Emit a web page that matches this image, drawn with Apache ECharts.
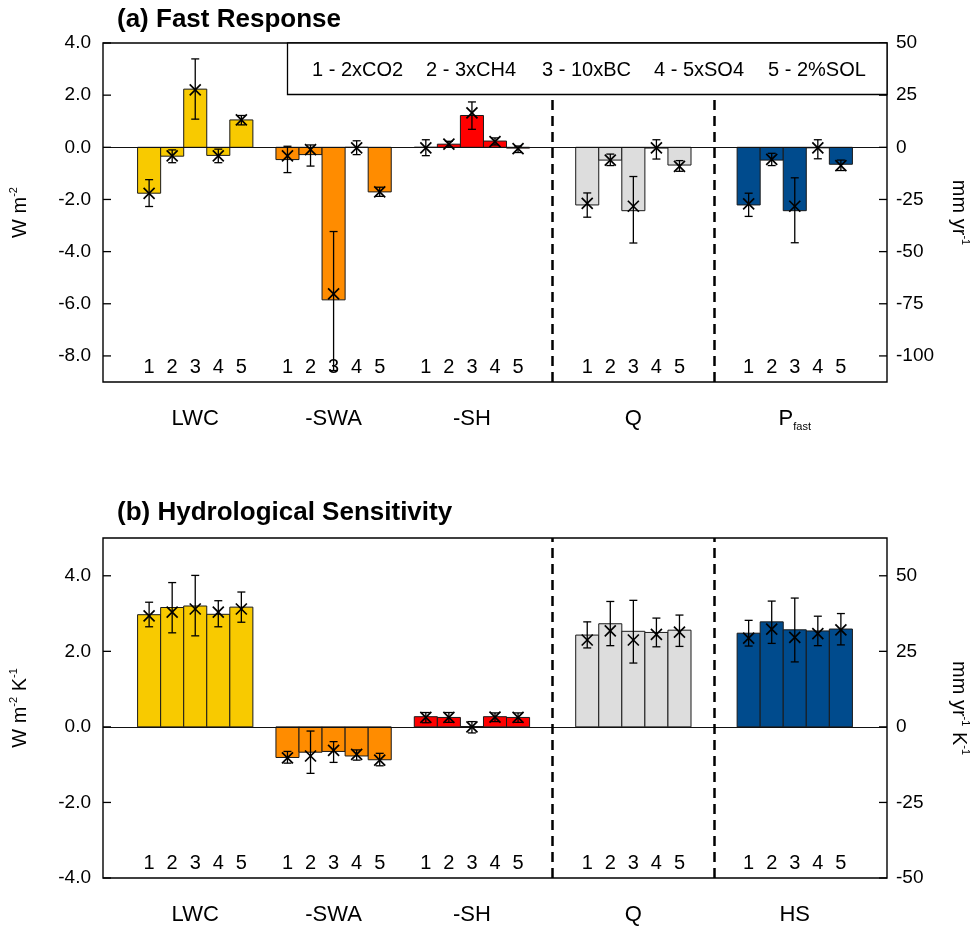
<!DOCTYPE html>
<html>
<head>
<meta charset="utf-8">
<script src="https://cdn.jsdelivr.net/npm/echarts@6/dist/echarts.min.js"></script>
<style>html,body{margin:0;padding:0;background:#fff;}#c{width:973px;height:927px;}</style>
</head>
<body>
<div id="c"></div>
<script>
// ---------- data ----------
const groupNamesA = ['LWC', '-SWA', '-SH', 'Q', 'P_fast'];
const groupNamesB = ['LWC', '-SWA', '-SH', 'Q', 'HS'];
const groupColors = ['#F8CA00', '#FF8C00', '#FF0000', '#DDDDDD', '#004B8D'];
const groupStart = [2, 8, 14, 21, 28];          // x slot of experiment 1 in each group
const experimentNums = ['1', '2', '3', '4', '5'];
const legendItems = ['1 - 2xCO2', '2 - 3xCH4', '3 - 10xBC', '4 - 5xSO4', '5 - 2%SOL'];
const separators = [19.5, 26.5];

// (a) Fast response, W m-2 (bar, marker, error low, error high)
const fastBar = [
  [-1.76, -0.34, 2.23, -0.31, 1.05],
  [-0.47, -0.28, -5.85, 0.0, -1.71],
  [0.0, 0.12, 1.22, 0.24, -0.03],
  [-2.21, -0.49, -2.43, -0.03, -0.68],
  [-2.21, -0.49, -2.43, -0.02, -0.65]
];
const fastMark = [
  [-1.77, -0.33, 2.20, -0.33, 1.05],
  [-0.33, -0.09, -5.62, -0.02, -1.71],
  [-0.02, 0.12, 1.32, 0.22, -0.05],
  [-2.15, -0.49, -2.26, -0.02, -0.73],
  [-2.17, -0.46, -2.26, -0.02, -0.70]
];
const fastLo = [
  [-2.27, -0.59, 1.08, -0.59, 0.86],
  [-0.97, -0.72, -8.56, -0.28, -1.88],
  [-0.32, 0.0, 0.69, 0.09, -0.20],
  [-2.68, -0.70, -3.67, -0.45, -0.92],
  [-2.65, -0.70, -3.66, -0.44, -0.89]
];
const fastHi = [
  [-1.24, -0.10, 3.39, -0.07, 1.22],
  [0.04, 0.09, -3.23, 0.25, -1.53],
  [0.29, 0.23, 1.74, 0.36, 0.05],
  [-1.75, -0.26, -1.12, 0.29, -0.51],
  [-1.76, -0.23, -1.17, 0.29, -0.49]
];

// (b) Hydrological sensitivity, W m-2 K-1
const hsBar = [
  [2.97, 3.16, 3.20, 2.98, 3.17],
  [-0.81, -0.67, -0.65, -0.77, -0.87],
  [0.27, 0.25, 0.01, 0.27, 0.25],
  [2.43, 2.73, 2.53, 2.50, 2.56],
  [2.48, 2.78, 2.57, 2.54, 2.59]
];
const hsMark = [
  [2.94, 3.04, 3.12, 3.04, 3.12],
  [-0.82, -0.77, -0.62, -0.73, -0.88],
  [0.25, 0.25, 0.0, 0.26, 0.25],
  [2.30, 2.54, 2.30, 2.45, 2.51],
  [2.35, 2.59, 2.37, 2.47, 2.57]
];
const hsLo = [
  [2.65, 2.49, 2.41, 2.65, 2.77],
  [-0.96, -1.23, -0.94, -0.88, -1.03],
  [0.11, 0.12, -0.16, 0.14, 0.12],
  [2.09, 2.15, 1.69, 2.12, 2.13],
  [2.14, 2.21, 1.72, 2.15, 2.17]
];
const hsHi = [
  [3.30, 3.82, 4.01, 3.34, 3.57],
  [-0.65, -0.11, -0.39, -0.61, -0.70],
  [0.38, 0.38, 0.14, 0.37, 0.37],
  [2.78, 3.32, 3.35, 2.88, 2.96],
  [2.82, 3.33, 3.41, 2.93, 3.00]
];

// axis ticks
const leftTicksA = [-8, -6, -4, -2, 0, 2, 4];
const rightTicksA = [-100, -75, -50, -25, 0, 25, 50];
const leftTicksB = [-4, -2, 0, 2, 4];
const rightTicksB = [-50, -25, 0, 25, 50];
const mmPerW = 12.5;   // right axis / left axis ratio

// ---------- build ----------
const FONT = 'Liberation Sans, Arial, Helvetica, sans-serif';
const X_MIN = 0, X_MAX = 34;
const groupCenters = groupStart.map(s => s + 2);
const barXs = [], barNums = [];
groupStart.forEach(s => experimentNums.forEach((n, i) => { barXs.push(s + i); barNums.push(n); }));

function barData(vals) {
  const out = [];
  vals.forEach((g, gi) => g.forEach((v, i) => out.push([groupStart[gi] + i, v, gi])));
  return out;
}
function errData(mark, lo, hi) {
  const out = [];
  mark.forEach((g, gi) => g.forEach((m, i) => out.push([groupStart[gi] + i, m, lo[gi][i], hi[gi][i]])));
  return out;
}
function renderBar(params, api) {
  const x = api.value(0), v = api.value(1), gi = api.value(2);
  const p0 = api.coord([x - 0.5, 0]);
  const p1 = api.coord([x + 0.5, v]);
  return {
    type: 'rect',
    shape: { x: p0[0], y: Math.min(p0[1], p1[1]), width: p1[0] - p0[0], height: Math.abs(p1[1] - p0[1]) },
    style: { fill: groupColors[gi], stroke: '#1a1a1a', lineWidth: 1 }
  };
}
function renderErr(params, api) {
  const x = api.value(0);
  const m = api.coord([x, api.value(1)]);
  const lo = api.coord([x, api.value(2)]);
  const hi = api.coord([x, api.value(3)]);
  const c = 4, k = 5.5;
  const st = { stroke: '#000', lineWidth: 1.3 };
  const st2 = { stroke: '#000', lineWidth: 1.7 };
  return {
    type: 'group',
    children: [
      { type: 'line', shape: { x1: lo[0], y1: lo[1], x2: hi[0], y2: hi[1] }, style: st },
      { type: 'line', shape: { x1: lo[0] - c, y1: lo[1], x2: lo[0] + c, y2: lo[1] }, style: st },
      { type: 'line', shape: { x1: hi[0] - c, y1: hi[1], x2: hi[0] + c, y2: hi[1] }, style: st },
      { type: 'line', shape: { x1: m[0] - k, y1: m[1] - k, x2: m[0] + k, y2: m[1] + k }, style: st2 },
      { type: 'line', shape: { x1: m[0] - k, y1: m[1] + k, x2: m[0] + k, y2: m[1] - k }, style: st2 }
    ]
  };
}
// inward tick marks at the axis tick values
function renderTick(params, api) {
  const x = api.value(0);
  const p = api.coord([x, api.value(1)]);
  const dir = x === X_MIN ? 1 : -1;
  return { type: 'line', shape: { x1: p[0], y1: p[1], x2: p[0] + dir * 8, y2: p[1] }, style: { stroke: '#000', lineWidth: 1.3 } };
}
function tickSeries(xIdx, yIdx, xPos, ticks) {
  return { type: 'custom', xAxisIndex: xIdx, yAxisIndex: yIdx, renderItem: renderTick, silent: true, z: 6,
           data: ticks.map(v => [xPos, v]) };
}
function groupLabel(names) {
  return function (v) {
    const n = names[groupCenters.indexOf(v)];
    if (n === 'P_fast') return '{m|P}{s|fast}';
    return '{m|' + n + '}';
  };
}
function numLabel(v) { return barNums[barXs.indexOf(v)]; }

const supRich = {
  a: { fontSize: 20, fontFamily: FONT, color: '#000', lineHeight: 24 },
  s: { fontSize: 11, fontFamily: FONT, color: '#000', lineHeight: 24, verticalAlign: 'top' }
};

function xAxesFor(gridIndex, names) {
  return [
    {
      gridIndex, type: 'value', min: X_MIN, max: X_MAX, position: 'bottom',
      axisLine: { show: false }, axisTick: { show: false }, splitLine: { show: false },
      axisLabel: {
        customValues: groupCenters, formatter: groupLabel(names), margin: 24, color: '#000',
        rich: {
          m: { fontSize: 22, fontFamily: FONT, color: '#000', lineHeight: 26 },
          s: { fontSize: 11, fontFamily: FONT, color: '#000', lineHeight: 26, verticalAlign: 'bottom' }
        }
      }
    },
    {
      gridIndex, type: 'value', min: X_MIN, max: X_MAX, position: 'bottom',
      axisLine: { show: false }, axisTick: { show: false }, splitLine: { show: false },
      axisLabel: {
        inside: true, customValues: barXs, formatter: numLabel, margin: 5,
        fontSize: 20, fontFamily: FONT, color: '#000'
      }
    }
  ];
}
function yAxisFor(gridIndex, pos, min, max, ticks, fmt, name, gap, rot) {
  return {
    gridIndex, type: 'value', position: pos, min, max,
    axisLine: { show: false },
    splitLine: { show: false },
    axisTick: { show: false },
    axisLabel: { customValues: ticks, formatter: fmt, fontSize: 19, fontFamily: FONT, color: '#000', margin: pos === 'left' ? 12 : 9 },
    name, nameLocation: 'middle', nameGap: gap, nameRotate: rot,
    nameTextStyle: { rich: supRich, fontSize: 20, fontFamily: FONT, color: '#000' }
  };
}

const dashLines = separators.map(x => ({ xAxis: x, lineStyle: { type: [10, 6], width: 2.5, color: '#000' } }));
const zeroLine = { yAxis: 0, lineStyle: { type: 'solid', width: 1.2, color: '#111' } };

const option = {
  animation: false,
  backgroundColor: '#fff',
  textStyle: { fontFamily: FONT },
  title: [
    { text: '(a) Fast Response', left: 117, top: 7, padding: 0, textStyle: { fontSize: 26, fontWeight: 'bold', fontFamily: FONT, color: '#000' } },
    { text: '(b) Hydrological Sensitivity', left: 117, top: 500, padding: 0, textStyle: { fontSize: 26, fontWeight: 'bold', fontFamily: FONT, color: '#000' } }
  ],
  grid: [
    { left: 103, top: 43, width: 784, height: 339, show: true, borderColor: '#000', borderWidth: 1.4, outerBoundsMode: 'none' },
    { left: 103, top: 538, width: 784, height: 340, show: true, borderColor: '#000', borderWidth: 1.4, outerBoundsMode: 'none' }
  ],
  xAxis: [...xAxesFor(0, groupNamesA), ...xAxesFor(1, groupNamesB)],
  yAxis: [
    yAxisFor(0, 'left', -9, 4, leftTicksA, v => v.toFixed(1), '{a|W m}{s|-2}', 71, 90),
    yAxisFor(0, 'right', -9 * mmPerW, 4 * mmPerW, rightTicksA, v => String(v), '{a|mm yr}{s|-1}', 60, -90),
    yAxisFor(1, 'left', -4, 5, leftTicksB, v => v.toFixed(1), '{a|W m}{s|-2}{a| K}{s|-1}', 71, 90),
    yAxisFor(1, 'right', -4 * mmPerW, 5 * mmPerW, rightTicksB, v => String(v), '{a|mm yr}{s|-1}{a| K}{s|-1}', 60, -90)
  ],
  series: [
    {
      type: 'custom', xAxisIndex: 0, yAxisIndex: 0, renderItem: renderBar, data: barData(fastBar), z: 2,
      markLine: { silent: true, symbol: ['none', 'none'], label: { show: false }, data: [zeroLine, ...dashLines] }
    },
    { type: 'custom', xAxisIndex: 0, yAxisIndex: 0, renderItem: renderErr, data: errData(fastMark, fastLo, fastHi), z: 5 },
    {
      type: 'custom', xAxisIndex: 2, yAxisIndex: 2, renderItem: renderBar, data: barData(hsBar), z: 2,
      markLine: { silent: true, symbol: ['none', 'none'], label: { show: false }, data: [zeroLine, ...dashLines] }
    },
    { type: 'custom', xAxisIndex: 2, yAxisIndex: 2, renderItem: renderErr, data: errData(hsMark, hsLo, hsHi), z: 5 },
    tickSeries(0, 0, X_MIN, leftTicksA),
    tickSeries(0, 1, X_MAX, rightTicksA),
    tickSeries(2, 2, X_MIN, leftTicksB),
    tickSeries(2, 3, X_MAX, rightTicksB)
  ],
  graphic: [
    {
      type: 'rect', z: 50,
      shape: { x: 287.5, y: 43, width: 599.5, height: 51.5 },
      style: { fill: '#fff', stroke: '#000', lineWidth: 1.3 }
    },
    ...legendItems.map((t, i) => ({
      type: 'text', z: 51,
      x: [312, 426, 542, 654, 768][i], y: 70,
      style: { text: t, fontSize: 20, fontFamily: FONT, fill: '#000', verticalAlign: 'middle', align: 'left' }
    }))
  ]
};

const chart = echarts.init(document.getElementById('c'), null, { renderer: 'canvas' });
chart.setOption(option);
</script>
</body>
</html>
